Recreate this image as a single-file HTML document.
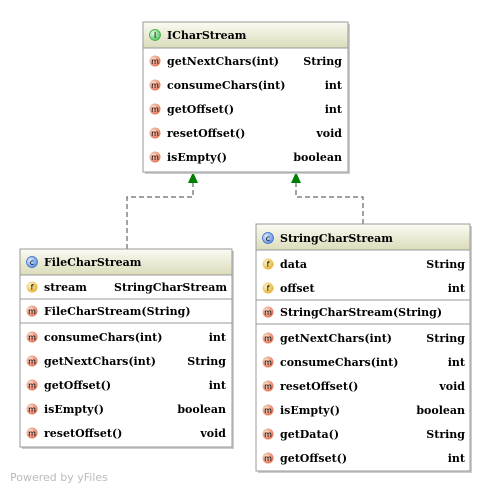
<!DOCTYPE html>
<html><head><meta charset="utf-8"><style>
body{margin:0;background:#fff;}
svg text{font-family:"DejaVu Serif","Liberation Serif",serif;font-weight:bold;font-size:11px;fill:#000;}
svg text.ic{font-family:"DejaVu Sans","Liberation Sans",sans-serif;font-weight:normal;font-size:8px;text-anchor:middle;}
</style></head><body>
<svg width="493" height="492" xmlns="http://www.w3.org/2000/svg">
<defs>
<linearGradient id="hg" x1="0" y1="0" x2="0" y2="1"><stop offset="0" stop-color="#fafaf2"/><stop offset="1" stop-color="#dcdcbc"/></linearGradient>
<radialGradient id="m" cx="0.35" cy="0.35" r="0.7"><stop offset="0" stop-color="#fde0d0"/><stop offset="1" stop-color="#e0704e"/></radialGradient>
<radialGradient id="f" cx="0.35" cy="0.35" r="0.7"><stop offset="0" stop-color="#fff4c8"/><stop offset="1" stop-color="#e8b030"/></radialGradient>
<radialGradient id="c" cx="0.35" cy="0.35" r="0.7"><stop offset="0" stop-color="#e0ecff"/><stop offset="1" stop-color="#5a8ce0"/></radialGradient>
<radialGradient id="i" cx="0.35" cy="0.35" r="0.7"><stop offset="0" stop-color="#e0ffe0"/><stop offset="1" stop-color="#50c060"/></radialGradient>
<g id="M"><circle r="5.5" fill="url(#m)"/><text class="ic" y="3">m</text></g>
<g id="F"><circle r="5.5" fill="url(#f)"/><text class="ic" y="3">f</text></g>
<g id="C"><circle r="5.5" fill="url(#c)" stroke="#36c" stroke-width="0.7"/><text class="ic" y="3">c</text></g>
<g id="I"><circle r="5.5" fill="url(#i)" stroke="#3a3" stroke-width="0.7"/><text class="ic" y="3">I</text></g>
</defs>
<g fill="none" stroke="#444" stroke-dasharray="5,3">
<path d="M127 249 V197 H193 V183"/>
<path d="M363 224 V197 H296 V183"/>
</g>
<path d="M193 172 L188 183 L198 183 Z" fill="#008000"/>
<path d="M296 172 L291 183 L301 183 Z" fill="#008000"/>

<rect x="145" y="24" width="205" height="150" fill="#ccc"/>
<rect x="143" y="22" width="205" height="150" fill="#fff" stroke="#999"/>
<rect x="143.5" y="22.5" width="204" height="25" fill="url(#hg)"/>
<line x1="143" y1="48" x2="348" y2="48" stroke="#999"/>
<use href="#I" x="155" y="35"/>
<text x="167" y="39">ICharStream</text>
<use href="#M" x="155" y="61"/><text x="167" y="65">getNextChars(int)</text><text x="342" y="65" text-anchor="end">String</text>
<use href="#M" x="155" y="85"/><text x="167" y="89">consumeChars(int)</text><text x="342" y="89" text-anchor="end">int</text>
<use href="#M" x="155" y="109"/><text x="167" y="113">getOffset()</text><text x="342" y="113" text-anchor="end">int</text>
<use href="#M" x="155" y="133"/><text x="167" y="137">resetOffset()</text><text x="342" y="137" text-anchor="end">void</text>
<use href="#M" x="155" y="157"/><text x="167" y="161">isEmpty()</text><text x="342" y="161" text-anchor="end">boolean</text>

<rect x="22" y="251" width="212" height="198" fill="#ccc"/>
<rect x="20" y="249" width="212" height="198" fill="#fff" stroke="#999"/>
<rect x="20.5" y="249.5" width="211" height="25" fill="url(#hg)"/>
<line x1="20" y1="275" x2="232" y2="275" stroke="#999"/>
<line x1="20" y1="299" x2="232" y2="299" stroke="#999"/>
<line x1="20" y1="323" x2="232" y2="323" stroke="#999"/>
<use href="#C" x="32" y="262"/>
<text x="44" y="266">FileCharStream</text>
<use href="#F" x="32" y="287"/><text x="44" y="291">stream</text><text x="227" y="291" text-anchor="end">StringCharStream</text>
<use href="#M" x="32" y="311"/><text x="44" y="315">FileCharStream(String)</text>
<use href="#M" x="32" y="337"/><text x="44" y="341">consumeChars(int)</text><text x="226" y="341" text-anchor="end">int</text>
<use href="#M" x="32" y="361"/><text x="44" y="365">getNextChars(int)</text><text x="226" y="365" text-anchor="end">String</text>
<use href="#M" x="32" y="385"/><text x="44" y="389">getOffset()</text><text x="226" y="389" text-anchor="end">int</text>
<use href="#M" x="32" y="409"/><text x="44" y="413">isEmpty()</text><text x="226" y="413" text-anchor="end">boolean</text>
<use href="#M" x="32" y="433"/><text x="44" y="437">resetOffset()</text><text x="226" y="437" text-anchor="end">void</text>

<rect x="258" y="226" width="214" height="247" fill="#ccc"/>
<rect x="256" y="224" width="214" height="247" fill="#fff" stroke="#999"/>
<rect x="256.5" y="224.5" width="213" height="25" fill="url(#hg)"/>
<line x1="256" y1="250" x2="470" y2="250" stroke="#999"/>
<line x1="256" y1="300" x2="470" y2="300" stroke="#999"/>
<line x1="256" y1="324" x2="470" y2="324" stroke="#999"/>
<use href="#C" x="268" y="238"/>
<text x="280" y="242">StringCharStream</text>
<use href="#F" x="268" y="264"/><text x="280" y="268">data</text><text x="465" y="268" text-anchor="end">String</text>
<use href="#F" x="268" y="288"/><text x="280" y="292">offset</text><text x="465" y="292" text-anchor="end">int</text>
<use href="#M" x="268" y="312"/><text x="280" y="316">StringCharStream(String)</text>
<use href="#M" x="268" y="338"/><text x="280" y="342">getNextChars(int)</text><text x="465" y="342" text-anchor="end">String</text>
<use href="#M" x="268" y="362"/><text x="280" y="366">consumeChars(int)</text><text x="465" y="366" text-anchor="end">int</text>
<use href="#M" x="268" y="386"/><text x="280" y="390">resetOffset()</text><text x="465" y="390" text-anchor="end">void</text>
<use href="#M" x="268" y="410"/><text x="280" y="414">isEmpty()</text><text x="465" y="414" text-anchor="end">boolean</text>
<use href="#M" x="268" y="434"/><text x="280" y="438">getData()</text><text x="465" y="438" text-anchor="end">String</text>
<use href="#M" x="268" y="458"/><text x="280" y="462">getOffset()</text><text x="465" y="462" text-anchor="end">int</text>

<text x="10" y="481" style="font-family:'DejaVu Sans','Liberation Sans',sans-serif;font-weight:normal;font-size:11px;fill:#bbb">Powered by yFiles</text>
</svg>
</body></html>
